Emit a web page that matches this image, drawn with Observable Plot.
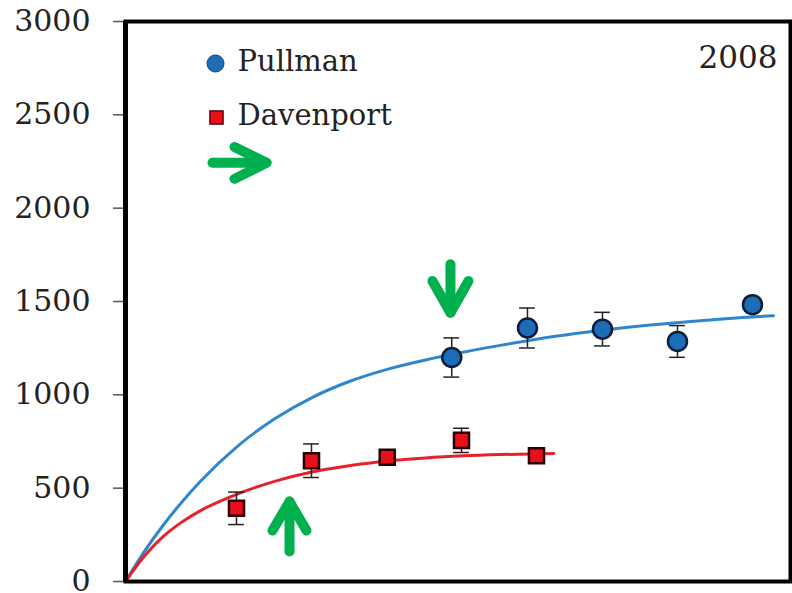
<!DOCTYPE html>
<html><head><meta charset="utf-8">
<script src="https://cdn.jsdelivr.net/npm/d3@7"></script>
<script src="https://cdn.jsdelivr.net/npm/@observablehq/plot@0.6"></script>
<style>body{margin:0;background:#fff;}</style>
</head><body><div id="chart"></div>
<script>
// y-axis tick labels
const yTicks = [0, 500, 1000, 1500, 2000, 2500, 3000];

// observed points (x in arbitrary time units)
const pullmanX = [4.35, 5.36, 6.36, 7.36, 8.36];
const pullmanY = [1200, 1358, 1352, 1286, 1483];
const pullmanErr = [105, 107, 90, 85, 35];

const davenportX = [1.48, 2.48, 3.49, 4.48, 5.48];
const davenportY = [392, 647, 666, 756, 674];
const davenportErr = [87, 90, 15, 65, 10];

// fitted curves
const pullmanCurveX = [0, 0.25, 0.5, 0.75, 1, 1.5, 2, 2.5, 3, 3.5, 4, 4.5, 5, 5.5, 6, 6.5, 7, 7.5, 8, 8.64];
const pullmanCurveY = [0, 160, 300, 425, 537, 727, 874, 988, 1074, 1138, 1187, 1228, 1265, 1299, 1328, 1353, 1374, 1392, 1408, 1424];
const davenportCurveX = [0, 0.25, 0.5, 0.75, 1, 1.5, 2, 2.5, 3, 3.5, 4, 4.5, 5, 5.71];
const davenportCurveY = [0, 135, 240, 318, 380, 470, 538, 588, 622, 646, 662, 673, 680, 686];

// green annotation arrows (polylines in data units)
const arrowId = ["r1","r1","r2","r2","r2","d1","d1","d2","d2","d2","u1","u1","u2","u2","u2"];
const arrowX  = [1.16, 1.88, 1.453, 1.88, 1.453, 4.333, 4.333, 4.093, 4.333, 4.573, 2.187, 2.187, 1.96, 2.187, 2.413];
const arrowY  = [2243, 2243, 2328, 2243, 2157, 1700, 1440, 1610, 1440, 1610, 161, 428, 273, 428, 273];

const seriesNames = ["Pullman", "Davenport"];
const yearLabel = "2008";

const pullman = pullmanX.map((x, i) => ({x, y: pullmanY[i], e: pullmanErr[i]}));
const davenport = davenportX.map((x, i) => ({x, y: davenportY[i], e: davenportErr[i]}));
const pCurve = pullmanCurveX.map((x, i) => ({x, y: pullmanCurveY[i]}));
const dCurve = davenportCurveX.map((x, i) => ({x, y: davenportCurveY[i]}));
const arrows = arrowX.map((x, i) => ({x, y: arrowY[i], id: arrowId[i]}));
const caps = (arr) => arr.flatMap(d => [{x: d.x, y: d.y - d.e}, {x: d.x, y: d.y + d.e}]);
const capHalf = 0.105;

const BLUE_FILL = "#1d6cb8", BLUE_LINE = "#2f86cc", RED_FILL = "#e8101a", RED_LINE = "#e8202c", GREEN = "#00b04f";

const chart = Plot.plot({
  width: 792,
  height: 593,
  marginLeft: 125,
  marginRight: 2,
  marginTop: 21,
  marginBottom: 12,
  style: {fontFamily: "'DejaVu Serif', serif", fontSize: "29px", background: "#fff", color: "#222"},
  x: {domain: [0, 8.867], axis: null},
  y: {domain: [0, 3000]},
  marks: [
    Plot.axisY({ticks: yTicks, tickFormat: d3.format("d"), tickSize: 12, tickPadding: 23, fontSize: 30, stroke: "#555", strokeWidth: 1.5, label: null, fill: "#222"}),
    // curves
    Plot.line(pCurve, {x: "x", y: "y", stroke: BLUE_LINE, strokeWidth: 3, curve: "monotone-x"}),
    Plot.line(dCurve, {x: "x", y: "y", stroke: RED_LINE, strokeWidth: 3, curve: "monotone-x"}),
    // error bars
    Plot.ruleX(pullman, {x: "x", y1: d => d.y - d.e, y2: d => d.y + d.e, stroke: "#222", strokeWidth: 1.5}),
    Plot.ruleY(caps(pullman), {y: "y", x1: d => d.x - capHalf, x2: d => d.x + capHalf, stroke: "#222", strokeWidth: 1.5}),
    Plot.ruleX(davenport, {x: "x", y1: d => d.y - d.e, y2: d => d.y + d.e, stroke: "#222", strokeWidth: 1.5}),
    Plot.ruleY(caps(davenport), {y: "y", x1: d => d.x - capHalf, x2: d => d.x + capHalf, stroke: "#222", strokeWidth: 1.5}),
    // points
    Plot.dot(pullman, {x: "x", y: "y", r: 9.5, fill: BLUE_FILL, stroke: "#0b1f3a", strokeWidth: 2.5}),
    Plot.dot(davenport, {x: "x", y: "y", symbol: "square", r: 8.5, fill: RED_FILL, stroke: "#2a0000", strokeWidth: 2.5}),
    // legend
    Plot.dot([seriesNames[0]], {frameAnchor: "top-left", dx: 90, dy: 42, r: 8.5, fill: BLUE_FILL, stroke: "#1a3d66", strokeWidth: 1}),
    Plot.dot([seriesNames[1]], {frameAnchor: "top-left", dx: 91, dy: 96, symbol: "square", r: 7.5, fill: RED_FILL, stroke: "#3a0000", strokeWidth: 1.2}),
    Plot.text([seriesNames[0]], {frameAnchor: "top-left", dx: 112, dy: 40, textAnchor: "start", lineAnchor: "middle", fontSize: 29, fill: "#222"}),
    Plot.text([seriesNames[1]], {frameAnchor: "top-left", dx: 112, dy: 94, textAnchor: "start", lineAnchor: "middle", fontSize: 29, fill: "#222"}),
    Plot.text([yearLabel], {frameAnchor: "top-right", dx: -13, dy: 37, textAnchor: "end", lineAnchor: "middle", fontSize: 31, fill: "#222"}),
    // annotation arrows
    Plot.line(arrows, {x: "x", y: "y", z: "id", stroke: GREEN, strokeWidth: 10, strokeLinecap: "round", strokeLinejoin: "round"}),
    // frame
    Plot.frame({stroke: "#000", strokeWidth: 4}),
    Plot.ruleX([0], {stroke: "#000", strokeWidth: 5})
  ]
});
document.getElementById("chart").appendChild(chart);
</script>
</body></html>
